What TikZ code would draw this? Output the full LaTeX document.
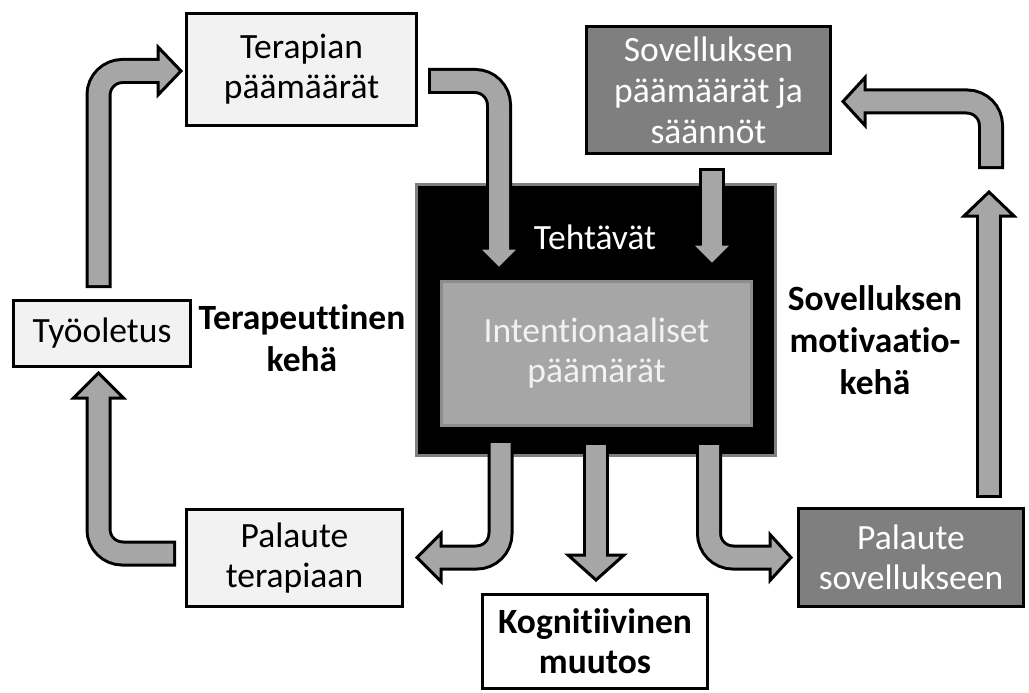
\documentclass[tikz,border=0pt]{standalone}
\usepackage{fontspec}
\setmainfont{Carlito}[Ligatures=NoCommon]
\usetikzlibrary{calc}

\definecolor{panel}{HTML}{F2F2F2}
\definecolor{darkpanel}{HTML}{7F7F7F}
\definecolor{arrowgray}{HTML}{A6A6A6}
\definecolor{rimgray}{HTML}{8C8C8C}

% Block arrow: #1 centre line from tail to head base, #2 head base, #3 tip, #4 half width of head
\newcommand\blockarrow[4]{%
  \draw[shaftouter] #1;
  \filldraw[arrowhead] ($(#2)!#4!90:(#3)$) -- (#3) -- ($(#2)!#4!-90:(#3)$) -- cycle;
  \draw[shaftinner, shorten <=3pt, shorten >=-2pt] #1;
}

\begin{document}
\begin{tikzpicture}[x=1pt,y=-1pt,
  every node/.style={font=\fontsize{35.5}{40}\selectfont, align=center, inner sep=0pt},
  box/.style={draw=black, line width=3pt, fill=panel, text=black},
  darkbox/.style={draw=black, line width=3pt, fill=darkpanel, text=white},
  looplabel/.style={font=\fontsize{35.5}{42}\selectfont\bfseries},
  shaftouter/.style={draw=black, line width=26pt, rounded corners=24pt},
  shaftinner/.style={draw=arrowgray, line width=20pt, rounded corners=24pt},
  arrowhead/.style={fill=arrowgray, draw=black, line width=3pt, line join=miter}
]
\useasboundingbox (0,0) rectangle (1029,693);

% boxes
\node[box, minimum width=230pt, minimum height=112pt] (ter) at (301.5,69.5) {Terapian\\päämäärät};
\node[darkbox, minimum width=244pt, minimum height=127pt, font=\fontsize{35.5}{41}\selectfont] (sov) at (708.5,90) {Sovelluksen\\päämäärät ja\\säännöt};
\node[fill=black, draw=darkpanel, line width=3pt, minimum width=359pt, minimum height=271pt] (teh) at (596,320) {};
\node[text=white] (tehlabel) at (595,237) {Tehtävät};
\node[fill=arrowgray, draw=rimgray, line width=3pt, minimum width=310pt, minimum height=144pt, text=panel] (int) at (596.5,353.5) {Intentionaaliset\\päämärät};
\node[box, minimum width=177pt, minimum height=66pt] (tyo) at (102,333.5) {Työoletus};
\node[box, minimum width=216pt, minimum height=97pt] (pal1) at (294.5,558) {Palaute\\terapiaan};
\node[box, fill=white, font=\fontsize{35.5}{40}\selectfont\bfseries, minimum width=225pt, minimum height=94pt] (kog) at (595,641.5) {Kognitiivinen\\muutos};
\node[darkbox, minimum width=225pt, minimum height=98pt] (pal2) at (911,557.5) {Palaute\\sovellukseen};

% loop captions
\node[looplabel] (terk) at (302,338) {Terapeuttinen\\kehä};
\node[looplabel] (sovk) at (875,340) {Sovelluksen\\motivaatio-\\kehä};

% arrow end points
\coordinate (a1t) at (98.5,288);  \coordinate (a1b) at (158,71);    \coordinate (a1h) at (181,71);
\coordinate (a2t) at (428,81);    \coordinate (a2b) at (499,248);   \coordinate (a2h) at (499,269);
\coordinate (a3t) at (712,168);   \coordinate (a3b) at (712,244);   \coordinate (a3h) at (712,265);
\coordinate (a4t) at (989,498);   \coordinate (a4b) at (989,216);   \coordinate (a4h) at (989,192);
\coordinate (a5t) at (991,169);   \coordinate (a5b) at (865,101.5); \coordinate (a5h) at (843,101.5);
\coordinate (a6t) at (500.5,440); \coordinate (a6b) at (441,557.5); \coordinate (a6h) at (417,557.5);
\coordinate (a7t) at (596,442);   \coordinate (a7b) at (596,555);   \coordinate (a7h) at (596,580);
\coordinate (a8t) at (709,442);   \coordinate (a8b) at (770,557.5); \coordinate (a8h) at (791,557.5);
\coordinate (a9t) at (176,553.5); \coordinate (a9b) at (98.5,398);  \coordinate (a9h) at (98.5,373);

% arrows
\blockarrow{(a1t) |- (a1b)}{a1b}{a1h}{24pt}
\blockarrow{(a2t) -| (a2b)}{a2b}{a2h}{21pt}
\blockarrow{(a3t) -- (a3b)}{a3b}{a3h}{21pt}
\blockarrow{(a4t) -- (a4b)}{a4b}{a4h}{25pt}
\blockarrow{(a5t) |- (a5b)}{a5b}{a5h}{24pt}
\blockarrow{(a6t) |- (a6b)}{a6b}{a6h}{24pt}
\blockarrow{(a7t) -- (a7b)}{a7b}{a7h}{28pt}
\blockarrow{(a8t) |- (a8b)}{a8b}{a8h}{23pt}
\blockarrow{(a9t) -| (a9b)}{a9b}{a9h}{25pt}
\end{tikzpicture}
\end{document}
